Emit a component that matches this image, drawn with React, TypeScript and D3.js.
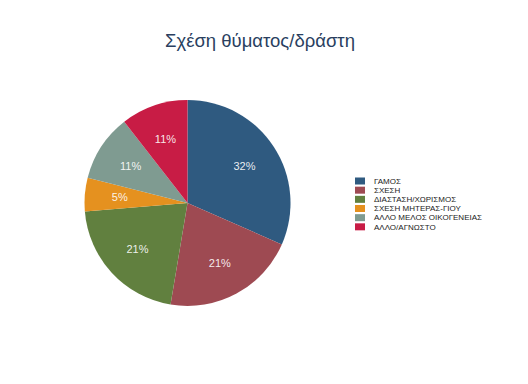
import React from "react";
import * as d3 from "d3";

const categories = ["ΓΑΜΟΣ", "ΣΧΕΣΗ", "ΔΙΑΣΤΑΣΗ/ΧΩΡΙΣΜΟΣ", "ΣΧΕΣΗ ΜΗΤΕΡΑΣ-ΓΙΟΥ", "ΑΛΛΟ ΜΕΛΟΣ ΟΙΚΟΓΕΝΕΙΑΣ", "ΑΛΛΟ/ΑΓΝΩΣΤΟ"];
const values = [6, 4, 4, 1, 2, 2];
const colors = ["#2f5a80", "#9e4a52", "#61803f", "#e5911f", "#7f9b91", "#c81c45"];
const title = "Σχέση θύματος/δράστη";

export default function App() {
  const W = 528, H = 384;
  const cx = 187.5, cy = 203, r = 103;
  const total = d3.sum(values);
  const pie = d3.pie<number>().sort(null).value((d) => d);
  const arcs = pie(values);
  const arc = d3.arc<d3.PieArcDatum<number>>().innerRadius(0).outerRadius(r);
  const labelArc = d3.arc<d3.PieArcDatum<number>>().innerRadius(r * 0.66).outerRadius(r * 0.66);
  const fmt = d3.format(".0%");
  const legendY = d3.scaleBand<number>().domain(d3.range(categories.length)).range([176.5, 231.5]);
  return (
    <svg width={W} height={H} style={{ position: "absolute", left: 0, top: 0, fontFamily: "'Liberation Sans', Arial, sans-serif" }}>
      <rect width={W} height={H} fill="#fff" />
      <text x={260} y={47} textAnchor="middle" fontSize={18.5} fill="#2a3f5f">{title}</text>
      <g transform={`translate(${cx},${cy})`}>
        {arcs.map((a, i) => (
          <path key={i} d={arc(a) || ""} fill={colors[i]} />
        ))}
        {arcs.map((a, i) => {
          const [x, y] = labelArc.centroid(a);
          return (
            <text key={i} x={x} y={y} dy="0.35em" textAnchor="middle" fontSize={11} fill="#fff" fillOpacity={0.9}>
              {fmt(values[i] / total)}
            </text>
          );
        })}
      </g>
      <g>
        {categories.map((c, i) => {
          const y = legendY(i)!;
          return (
            <g key={i}>
              <rect x={355} y={y + 1} width={10} height={7} fill={colors[i]} />
              <text x={374} y={y + 4.5} dy="0.35em" fontSize={8} fill="#222">{c}</text>
            </g>
          );
        })}
      </g>
    </svg>
  );
}
